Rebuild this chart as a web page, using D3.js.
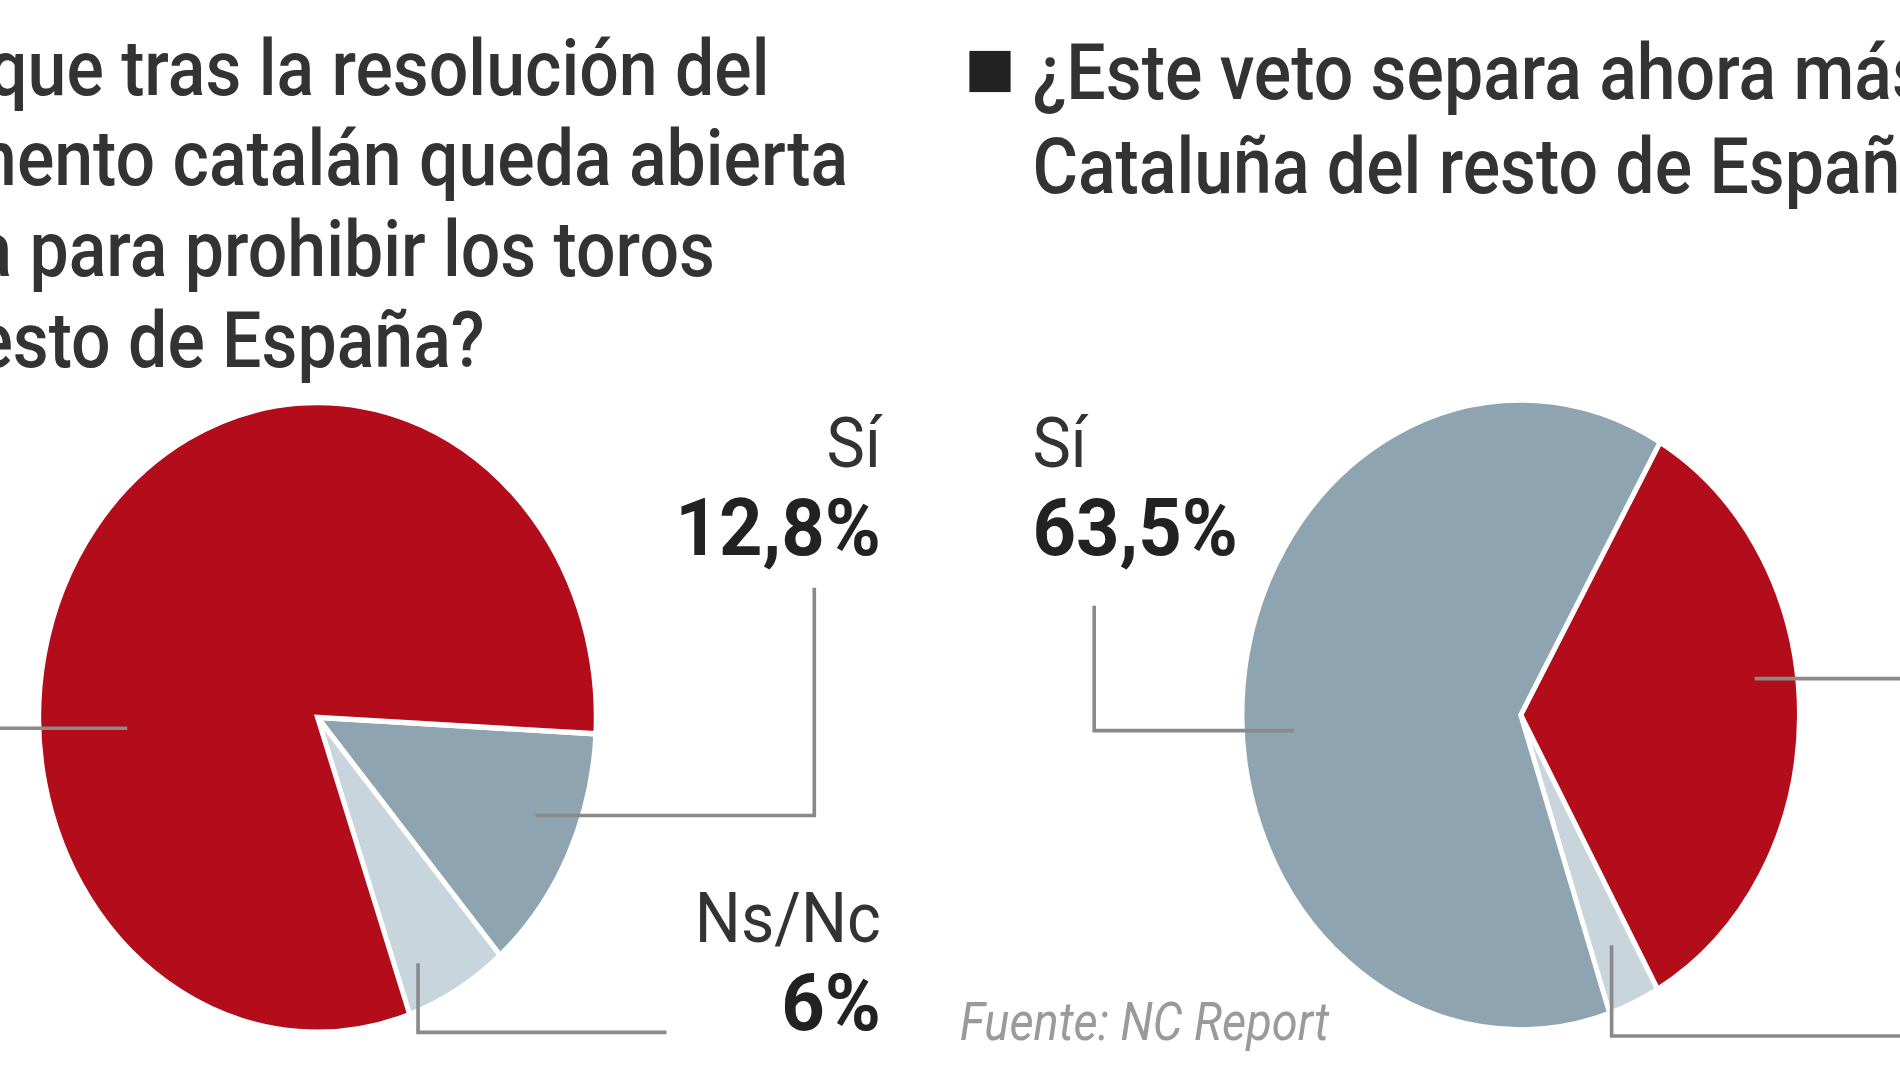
<!DOCTYPE html>
<html><head><meta charset="utf-8">
<script src="https://cdn.jsdelivr.net/npm/d3@7"></script>
<style>body{margin:0;background:#fff;overflow:hidden}</style></head>
<body><svg id="c" width="1900" height="1069"></svg>
<script>
const leftCats=["Sí","Ns/Nc","No"];
const leftVals=[12.8,6,81.2];
const rightCats=["No","Ns/Nc","Sí"];
const rightVals=[33.5,3,63.5];
const colors={"Sí":"#8fa4b1","Ns/Nc":"#c8d5dc","No":"#b30c1a"};
const leftTitle=["¿Cree que tras la resolución del","Parlamento catalán queda abierta","la vía para prohibir los toros","en el resto de España?"];
const leftTitleEnds=[635,700,590,400];
const rightTitle=["¿Este veto separa ahora más a","Cataluña del resto de España?"];

const svg=d3.select("#c");
const g=svg.append("g").attr("transform","scale("+(1900/1568)+")");
const F="Roboto,sans-serif";

function txt(x,y,anchor,size,weight,fill,s,sx,italic){
  g.append("text").attr("transform",`translate(${x},${y}) scale(${sx},1)`).attr("text-anchor",anchor)
   .attr("font-family",F).attr("font-size",size).attr("font-weight",weight).attr("fill",fill)
   .attr("font-style",italic?"italic":"normal").text(s);
}

function pie(cx,cy,cats,vals,startDeg){
  const p=d3.pie().sort(null).value(d=>d).startAngle(startDeg*Math.PI/180).endAngle((startDeg+360)*Math.PI/180);
  const arc=d3.arc().innerRadius(0).outerRadius(230);
  const pg=g.append("g").attr("transform",`translate(${cx},${cy}) scale(1,1.13)`);
  pg.selectAll("path").data(p(vals)).join("path").attr("d",arc)
    .attr("fill",(d,i)=>colors[cats[i]]).attr("stroke","#fff").attr("stroke-width",4);
}
pie(262,592,leftCats,leftVals,93);
pie(1255,590,rightCats,rightVals,30);

leftTitle.forEach((d,i)=>txt(leftTitleEnds[i],78+i*75,"end",64,500,"#333",d,0.9));
g.append("rect").attr("x",800).attr("y",42).attr("width",34).attr("height",34).attr("fill","#222");
rightTitle.forEach((d,i)=>txt(852,82+i*77,"start",64,500,"#333",d,0.9));

const lines=[[[0,601],[105,601]],[[442,673],[672,673],[672,485]],[[345,795],[345,852],[550,852]],
 [[903,500],[903,603],[1068,603]],[[1448,560],[1568,560]],[[1330,780],[1330,855],[1568,855]]];
g.selectAll(".ld").data(lines).join("path").attr("d",d=>d3.line()(d)).attr("fill","none")
 .attr("stroke","#8a8a8a").attr("stroke-width",3);

function lab(x,y,anchor,name,val){
  txt(x,y,anchor,58,400,"#333",name,0.92);
  txt(x,y+73,anchor,66,700,"#222",val,0.95);
}
lab(727,385,"end",leftCats[0],"12,8%");
lab(727,777,"end",leftCats[1],"6%");
lab(852,385,"start",rightCats[2],"63,5%");
txt(792,858,"start",44,400,"#9a9a9a","Fuente: NC Report",0.88,true);
</script></body></html>
